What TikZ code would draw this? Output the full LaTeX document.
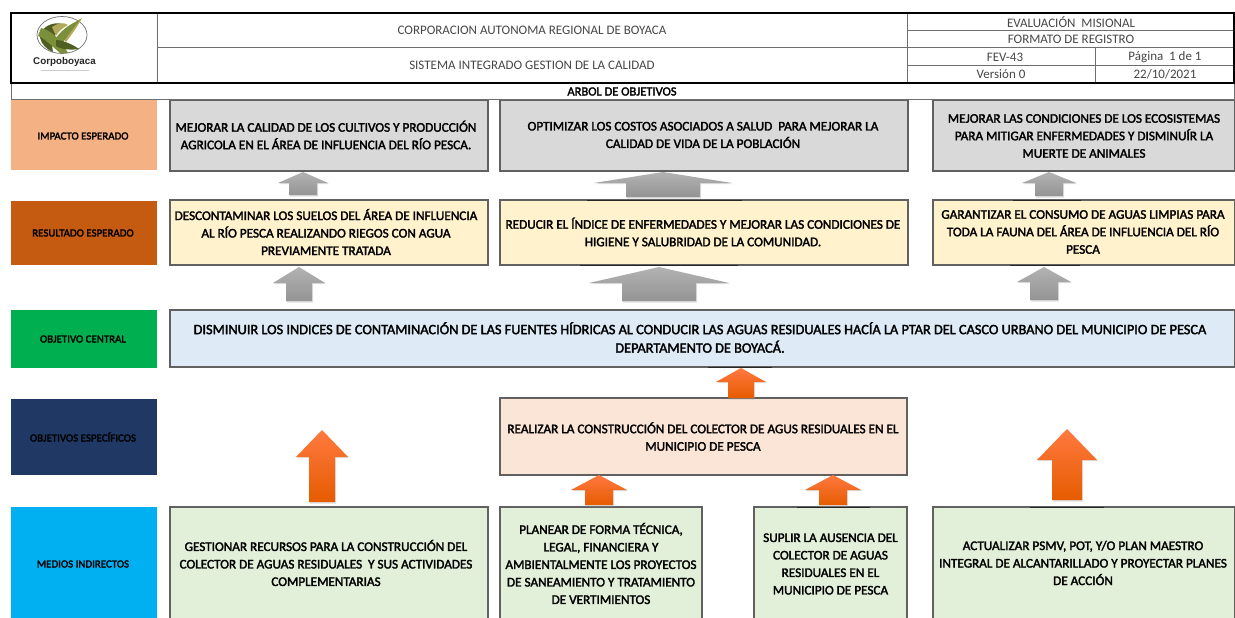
\documentclass[tikz,border=0pt]{standalone}
\usepackage{fontspec}
\setmainfont{Carlito}
\newfontfamily\boldishf[FakeBold=2.2]{Carlito}
\newfontfamily\logof{Liberation Sans}
\definecolor{gridg}{HTML}{6E6E6E}
\definecolor{impactc}{HTML}{F4B183}
\definecolor{resultc}{HTML}{C55A11}
\definecolor{centralc}{HTML}{00B050}
\definecolor{specc}{HTML}{1F3864}
\definecolor{mediosc}{HTML}{00B0F0}
\definecolor{grayb}{HTML}{D9D9D9}
\definecolor{yellb}{HTML}{FFF2CC}
\definecolor{blueb}{HTML}{DEEBF7}
\definecolor{pinkb}{HTML}{FBE5D6}
\definecolor{greenb}{HTML}{E2F0D9}
\definecolor{leafa}{HTML}{7C8F3A}
\definecolor{leafb}{HTML}{B3A95A}
\definecolor{leafc}{HTML}{4F5F22}
\tikzset{
  headtxt/.style={font=\fontsize{13}{15}\selectfont, text=black!72, inner sep=0pt, align=center},
  sidetxt/.style={font=\boldishf\fontsize{10.9}{12}\selectfont, text=black, inner sep=0pt, align=center},
  boxtxt/.style={font=\boldishf\fontsize{13.2}{17.5}\selectfont, text=black, inner sep=0pt, align=center},
  goalbox/.style={draw=black!62, line width=1.1pt},
  thin grid/.style={draw=gridg, line width=0.9pt},
  thick grid/.style={draw=black, line width=1.5pt},
  grayarrow/.style={top color=black!30, bottom color=black!42, draw=none},
  orangearrow/.style={top color=orange!60!red!75, bottom color=orange!80!red!90!black, draw=none},
  darkseg/.style={draw=black!85, line width=0.7pt},
}
% cx, tip y, head half width, head base y, shaft half width, bottom y, style
\newcommand{\uparrowshape}[7]{%
  \fill[black!35, opacity=.35] (#1+1,#2+1) -- (#1+#3+1,#4+1) -- (#1+#5+1,#4+1) -- (#1+#5+1,#6+1.5) -- (#1-#5+1,#6+1.5) -- (#1-#5+1,#4+1) -- (#1-#3+1,#4+1) -- cycle;
  \path[#7] (#1,#2) -- (#1+#3,#4) -- (#1+#5,#4) -- (#1+#5,#6) -- (#1-#5,#6) -- (#1-#5,#4) -- (#1-#3,#4) -- cycle;
}
\begin{document}
\begin{tikzpicture}[x=1pt,y=-1pt]
\useasboundingbox (0,0) rectangle (1235,618);
\fill[white] (0,0) rectangle (1235,618);

% left column
\fill[impactc] (11,100) rectangle (157,170);
\fill[resultc] (11,201) rectangle (157,265);
\fill[centralc] (11,310) rectangle (157,368);
\fill[specc] (11,399) rectangle (157,475);
\fill[mediosc] (11,507) rectangle (157,618);
\node[sidetxt] (s1) at (83,136) {IMPACTO ESPERADO};
\node[sidetxt] (s2) at (83,233) {RESULTADO ESPERADO};
\node[sidetxt] (s3) at (83,339) {OBJETIVO CENTRAL};
\node[sidetxt] (s4) at (83,437) {OBJETIVOS ESPECÍFICOS};
\node[sidetxt] (s5) at (83,564) {MEDIOS INDIRECTOS};

% goal boxes
\path[goalbox, fill=grayb] (170,100) rectangle (488,171);
\path[goalbox, fill=grayb] (500,100) rectangle (908,171);
\path[goalbox, fill=grayb] (933,100) rectangle (1235,171);
\path[goalbox, fill=yellb] (170,200) rectangle (488,265);
\path[goalbox, fill=yellb] (500,200) rectangle (908,265);
\path[goalbox, fill=yellb] (933,200) rectangle (1235,265);
\path[goalbox, fill=blueb] (170,310) rectangle (1235,367);
\path[goalbox, fill=pinkb] (500,398) rectangle (907,475);
\path[goalbox, fill=greenb] (170,507) rectangle (488,622);
\path[goalbox, fill=greenb] (500,507) rectangle (702,622);
\path[goalbox, fill=greenb] (754,507) rectangle (907,622);
\path[goalbox, fill=greenb] (933,507) rectangle (1235,622);
\path[darkseg] (587,200) -- (742,200);
\path[darkseg] (580,265) -- (738,265);
\path[darkseg] (1013,200) -- (1081,200);
\path[darkseg] (1010,265) -- (1080,265);
\path[darkseg] (708,367) -- (772,367);
\path[darkseg] (1030,507) -- (1104,507);
\path[darkseg] (797,507) -- (870,507);

\node[boxtxt] (a1) at (326,135) {MEJORAR LA CALIDAD DE LOS CULTIVOS Y PRODUCCIÓN\\AGRICOLA EN EL ÁREA DE INFLUENCIA DEL RÍO PESCA.};
\node[boxtxt] (a2) at (703,135) {OPTIMIZAR LOS COSTOS ASOCIADOS A SALUD\ \ PARA MEJORAR LA\\CALIDAD DE VIDA DE LA POBLACIÓN};
\node[boxtxt] (a3) at (1084,136) {MEJORAR LAS CONDICIONES DE LOS ECOSISTEMAS\\PARA MITIGAR ENFERMEDADES Y DISMINUÍR LA\\MUERTE DE ANIMALES};
\node[boxtxt] (b1) at (326,232) {DESCONTAMINAR LOS SUELOS DEL ÁREA DE INFLUENCIA\\AL RÍO PESCA REALIZANDO RIEGOS CON AGUA\\PREVIAMENTE TRATADA};
\node[boxtxt] (b2) at (703,232) {REDUCIR EL ÍNDICE DE ENFERMEDADES Y MEJORAR LAS CONDICIONES DE\\HIGIENE Y SALUBRIDAD DE LA COMUNIDAD.};
\node[boxtxt] (b3) at (1083,232) {GARANTIZAR EL CONSUMO DE AGUAS LIMPIAS PARA\\TODA LA FAUNA DEL ÁREA DE INFLUENCIA DEL RÍO\\PESCA};
\node[boxtxt, font=\boldishf\fontsize{14.3}{18.5}\selectfont] (c) at (700,337.5) {DISMINUIR LOS INDICES DE CONTAMINACIÓN DE LAS FUENTES HÍDRICAS AL CONDUCIR LAS AGUAS RESIDUALES HACÍA LA PTAR DEL CASCO URBANO DEL MUNICIPIO DE PESCA\\DEPARTAMENTO DE BOYACÁ.};
\node[boxtxt] (d) at (703,436.5) {REALIZAR LA CONSTRUCCIÓN DEL COLECTOR DE AGUS RESIDUALES EN EL\\MUNICIPIO DE PESCA};
\node[boxtxt] (e1) at (326,563) {GESTIONAR RECURSOS PARA LA CONSTRUCCIÓN DEL\\COLECTOR DE AGUAS RESIDUALES\ \ Y SUS ACTIVIDADES\\COMPLEMENTARIAS};
\node[boxtxt] (e2) at (601,563.5) {PLANEAR DE FORMA TÉCNICA,\\LEGAL, FINANCIERA Y\\AMBIENTALMENTE LOS PROYECTOS\\DE SANEAMIENTO Y TRATAMIENTO\\DE VERTIMIENTOS};
\node[boxtxt] (e3) at (830.5,564) {SUPLIR LA AUSENCIA DEL\\COLECTOR DE AGUAS\\RESIDUALES EN EL\\MUNICIPIO DE PESCA};
\node[boxtxt] (e4) at (1083,563) {ACTUALIZAR PSMV, POT, Y/O PLAN MAESTRO\\INTEGRAL DE ALCANTARILLADO Y PROYECTAR PLANES\\DE ACCIÓN};

% block arrows
\uparrowshape{303}{172}{25}{183}{14}{195}{grayarrow}
\uparrowshape{663}{172}{69}{183}{37}{197}{grayarrow}
\uparrowshape{1049}{172}{27}{183}{14}{196}{grayarrow}
\uparrowshape{299}{267}{26}{283}{13}{301}{grayarrow}
\uparrowshape{659}{267}{70}{283}{37}{301}{grayarrow}
\uparrowshape{1044}{267}{27}{282}{14}{300}{grayarrow}
\uparrowshape{741}{368}{25}{382}{13}{398}{orangearrow}
\uparrowshape{322}{430}{26}{457}{13}{502}{orangearrow}
\uparrowshape{1067}{429}{30}{460}{15}{500}{orangearrow}
\uparrowshape{599}{475}{28}{490}{14}{505}{orangearrow}
\uparrowshape{833}{475}{28}{490}{14}{505}{orangearrow}

% header
\path[thin grid] (157,47) -- (907,47);
\path[thin grid] (907,30) -- (1234,30);
\path[thin grid] (907,47) -- (1234,47);
\path[thin grid] (907,65) -- (1234,65);
\path[thin grid] (1095,47) -- (1095,83);
\path[thin grid] (157,13) -- (157,83);
\path[thin grid] (907,13) -- (907,83);
\path[draw=gridg, fill=white, line width=1pt] (11,83) rectangle (1234,100);
\path[thick grid] (11,13) rectangle (1234,83);

\node[headtxt] (h1) at (532,30) {CORPORACION AUTONOMA REGIONAL DE BOYACA};
\node[headtxt] (h2) at (532,65) {SISTEMA INTEGRADO GESTION DE LA CALIDAD};
\node[headtxt] (h3) at (1071,22) {EVALUACIÓN\ \ MISIONAL};
\node[headtxt] (h4) at (1071,39.5) {FORMATO DE REGISTRO};
\node[headtxt] (h5) at (1005,57) {FEV-43};
\node[headtxt] (h6) at (1165,57) {Página\ \ 1 de 1};
\node[headtxt] (h7) at (1001,74.5) {Versión 0};
\node[headtxt] (h8) at (1165,74.5) {22/10/2021};
\node[inner sep=0pt, font=\boldishf\fontsize{12.5}{14}\selectfont] (h9) at (622,91.5) {ARBOL DE OBJETIVOS};

% logo
\draw[black!55, line width=.7pt] (62,35) ellipse (25 and 18.5);
\fill[leafc] (40,33) .. controls (46,24) and (56,22) .. (62,24) .. controls (58,30) and (50,40) .. (53,52) -- (49,50) .. controls (43,46) and (39,40) .. (40,33) -- cycle;
\fill[leafa] (41,28) .. controls (50,30) and (60,38) .. (68,53) -- (60,53) .. controls (52,46) and (44,38) .. (38,36) -- cycle;
\fill[leafb] (62,37) .. controls (68,28) and (74,22) .. (82,18) .. controls (78,26) and (72,34) .. (66,42) -- cycle;
\fill[leafa] (52,44) .. controls (60,30) and (70,24) .. (80,20) .. controls (72,30) and (64,40) .. (58,50) -- cycle;
\fill[leafc] (56,40) .. controls (62,40) and (72,44) .. (79,49) .. controls (72,50) and (62,50) .. (56,46) -- cycle;
\fill[leafb] (52,27) .. controls (58,23) and (64,22) .. (68,25) .. controls (62,28) and (58,32) .. (56,36) -- cycle;
\node[inner sep=0pt, text=black!85, font=\logof\bfseries\fontsize{9.8}{11}\selectfont] (logo) at (64.5,61.5) {Corpoboyaca};
\draw[black!20, line width=.8pt] (41,70) -- (89,70);
\end{tikzpicture}
\end{document}
